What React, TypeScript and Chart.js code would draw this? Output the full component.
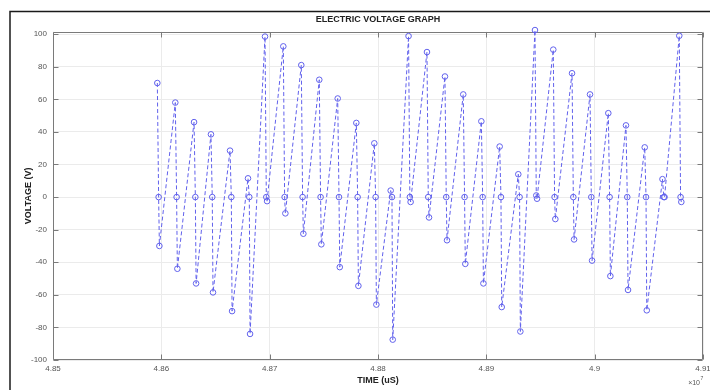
import { useEffect, useRef } from "react";
import { Chart, registerables } from "chart.js";

Chart.register(...registerables);

// Time of each oscillation group (×10^7 µs)
const groupTimes = [
  4.85963, 4.86129, 4.86302, 4.86458, 4.86634, 4.868, 4.86957, 4.87126, 4.87292, 4.87458,
  4.87628, 4.878, 4.87966, 4.88117, 4.88282, 4.88452, 4.88618, 4.88787, 4.88954, 4.89123,
  4.89295, 4.89449, 4.89618, 4.89791, 4.89957, 4.90126, 4.90289, 4.90462, 4.90626, 4.90781,
];
// time offsets of the three samples within a group (×10^7 µs)
const sampleOffsets = [0, 0.00012, 0.00019];
const peakVolts = [
  70, 58, 46, 38.5, 28.5, 11.5, 98.5, 92.5, 81, 72,
  60.5, 45.5, 33, 4, 98.8, 89, 74, 63, 46.5, 31,
  14, 102.5, 90.5, 76, 63, 51.5, 44, 30.5, 11, 99,
];
const midVolts = [
  0, 0, 0, 0, 0, 0, 0, 0, 0, 0,
  0, 0, 0, 0, 0, 0, 0, 0, 0, 0,
  0, 1, 0, 0, 0, 0, 0, 0, 0, 0,
];
const troughVolts = [
  -30, -44, -53, -58.5, -70, -84, -2.5, -10, -22.5, -29,
  -43, -54.5, -66, -87.5, -3, -12.5, -26.5, -41, -53, -67.5,
  -82.5, -1, -13.5, -26, -39, -48.5, -57, -69.5, 0, -3,
];
const xTicks = [4.85, 4.86, 4.87, 4.88, 4.89, 4.9, 4.91];
const xTickLabels = ["4.85", "4.86", "4.87", "4.88", "4.89", "4.9", "4.91"];
const yTicks = [-100, -80, -60, -40, -20, 0, 20, 40, 60, 80, 100];

const FONT = "'Liberation Sans', Arial, Helvetica, sans-serif";
const LINE_COLOR = "#6161ec";

export default function App() {
  const ref = useRef<HTMLCanvasElement | null>(null);

  useEffect(() => {
    const canvas = ref.current;
    if (!canvas) return;

    const points: { x: number; y: number }[] = [];
    groupTimes.forEach((t, i) => {
      points.push({ x: t + sampleOffsets[0], y: peakVolts[i] });
      points.push({ x: t + sampleOffsets[1], y: midVolts[i] });
      points.push({ x: t + sampleOffsets[2], y: troughVolts[i] });
    });

    const decor = {
      id: "decor",
      beforeDatasetsDraw(chart: any) {
        const { ctx, chartArea: a, scales } = chart;
        ctx.save();
        ctx.strokeStyle = "#7a7a7a";
        ctx.lineWidth = 1;
        ctx.beginPath();
        const L = Math.round(a.left) + 0.5;
        const R = Math.round(a.right) - 0.5;
        const T = Math.round(a.top) + 0.5;
        const B = Math.round(a.bottom) - 0.5;
        ctx.rect(L, T, R - L, B - T);
        // inside ticks
        const tl = 5;
        xTicks.forEach((v) => {
          const px = Math.round(scales.x.getPixelForValue(v)) + 0.5;
          ctx.moveTo(px, B);
          ctx.lineTo(px, B - tl);
          ctx.moveTo(px, T);
          ctx.lineTo(px, T + tl);
        });
        yTicks.forEach((v) => {
          const py = Math.round(scales.y.getPixelForValue(v)) + 0.5;
          ctx.moveTo(L, py);
          ctx.lineTo(L + tl, py);
          ctx.moveTo(R, py);
          ctx.lineTo(R - tl, py);
        });
        ctx.stroke();
        // x tick labels
        ctx.fillStyle = "#555";
        ctx.font = `8px ${FONT}`;
        ctx.textAlign = "center";
        ctx.textBaseline = "top";
        xTicks.forEach((v, i) => {
          const px = scales.x.getPixelForValue(v);
          ctx.fillText(xTickLabels[i], px, a.bottom + 5);
        });
        ctx.restore();
      },
      afterDraw(chart: any) {
        const { ctx, chartArea: a } = chart;
        ctx.save();
        const cx = (a.left + a.right) / 2;
        ctx.fillStyle = "#222";
        ctx.textAlign = "center";
        ctx.textBaseline = "middle";
        ctx.font = `bold 9px ${FONT}`;
        ctx.fillText("ELECTRIC VOLTAGE GRAPH", cx, 20);
        ctx.fillText("TIME (uS)", cx, 381);
        ctx.save();
        ctx.translate(29, (a.top + a.bottom) / 2);
        ctx.rotate(-Math.PI / 2);
        ctx.fillText("VOLTAGE (V)", 0, 0);
        ctx.restore();
        // exponent
        ctx.fillStyle = "#555";
        ctx.textAlign = "right";
        ctx.textBaseline = "alphabetic";
        ctx.font = `7px ${FONT}`;
        ctx.fillText("\u00d710", 700, 385);
        ctx.textAlign = "left";
        ctx.font = `5px ${FONT}`;
        ctx.fillText("7", 700.5, 380);
        // figure frame
        ctx.strokeStyle = "#1a1a1a";
        ctx.lineWidth = 1.5;
        ctx.beginPath();
        ctx.moveTo(10, 390);
        ctx.lineTo(10, 11.5);
        ctx.lineTo(710, 11.5);
        ctx.stroke();
        ctx.restore();
      },
    };

    const chart = new Chart(canvas, {
      type: "line",
      data: {
        datasets: [
          {
            data: points,
            borderColor: LINE_COLOR,
            borderWidth: 1,
            borderDash: [4, 2.5],
            pointStyle: "circle",
            pointRadius: 2.8,
            pointBorderWidth: 1,
            pointBorderColor: LINE_COLOR,
            pointBackgroundColor: "rgba(0,0,0,0)",
            tension: 0,
            fill: false,
            clip: false as any,
          },
        ],
      },
      options: {
        animation: false,
        responsive: false,
        devicePixelRatio: 1,
        events: [],
        parsing: false as any,
        layout: { padding: { top: 31.7, right: 7, left: 0, bottom: 0 } },
        plugins: {
          legend: { display: false },
          title: { display: false },
          tooltip: { enabled: false },
        },
        scales: {
          x: {
            type: "linear",
            min: 4.85,
            max: 4.91,
            afterBuildTicks: (s: any) => {
              s.ticks = xTicks.map((v) => ({ value: v }));
            },
            afterFit: (s: any) => {
              s.height = 30;
            },
            ticks: { display: false },
            grid: { color: "#ebebeb", lineWidth: 1, drawTicks: false },
            border: { display: false },
          },
          y: {
            type: "linear",
            min: -100,
            max: 101.5,
            afterBuildTicks: (s: any) => {
              s.ticks = yTicks.map((v) => ({ value: v }));
            },
            afterFit: (s: any) => {
              s.width = 53;
            },
            ticks: {
              padding: 6,
              color: "#555",
              font: { family: FONT, size: 8 },
              callback: (v: any) => String(v),
            },
            grid: { color: "#ebebeb", lineWidth: 1, drawTicks: false },
            border: { display: false },
          },
        },
      },
      plugins: [decor],
    });

    return () => chart.destroy();
  }, []);

  return (
    <div
      style={{
        position: "fixed",
        left: 0,
        top: 0,
        width: 710,
        height: 390,
        background: "#fff",
      }}
    >
      <canvas ref={ref} width={710} height={390} style={{ width: 710, height: 390, display: "block" }} />
    </div>
  );
}
